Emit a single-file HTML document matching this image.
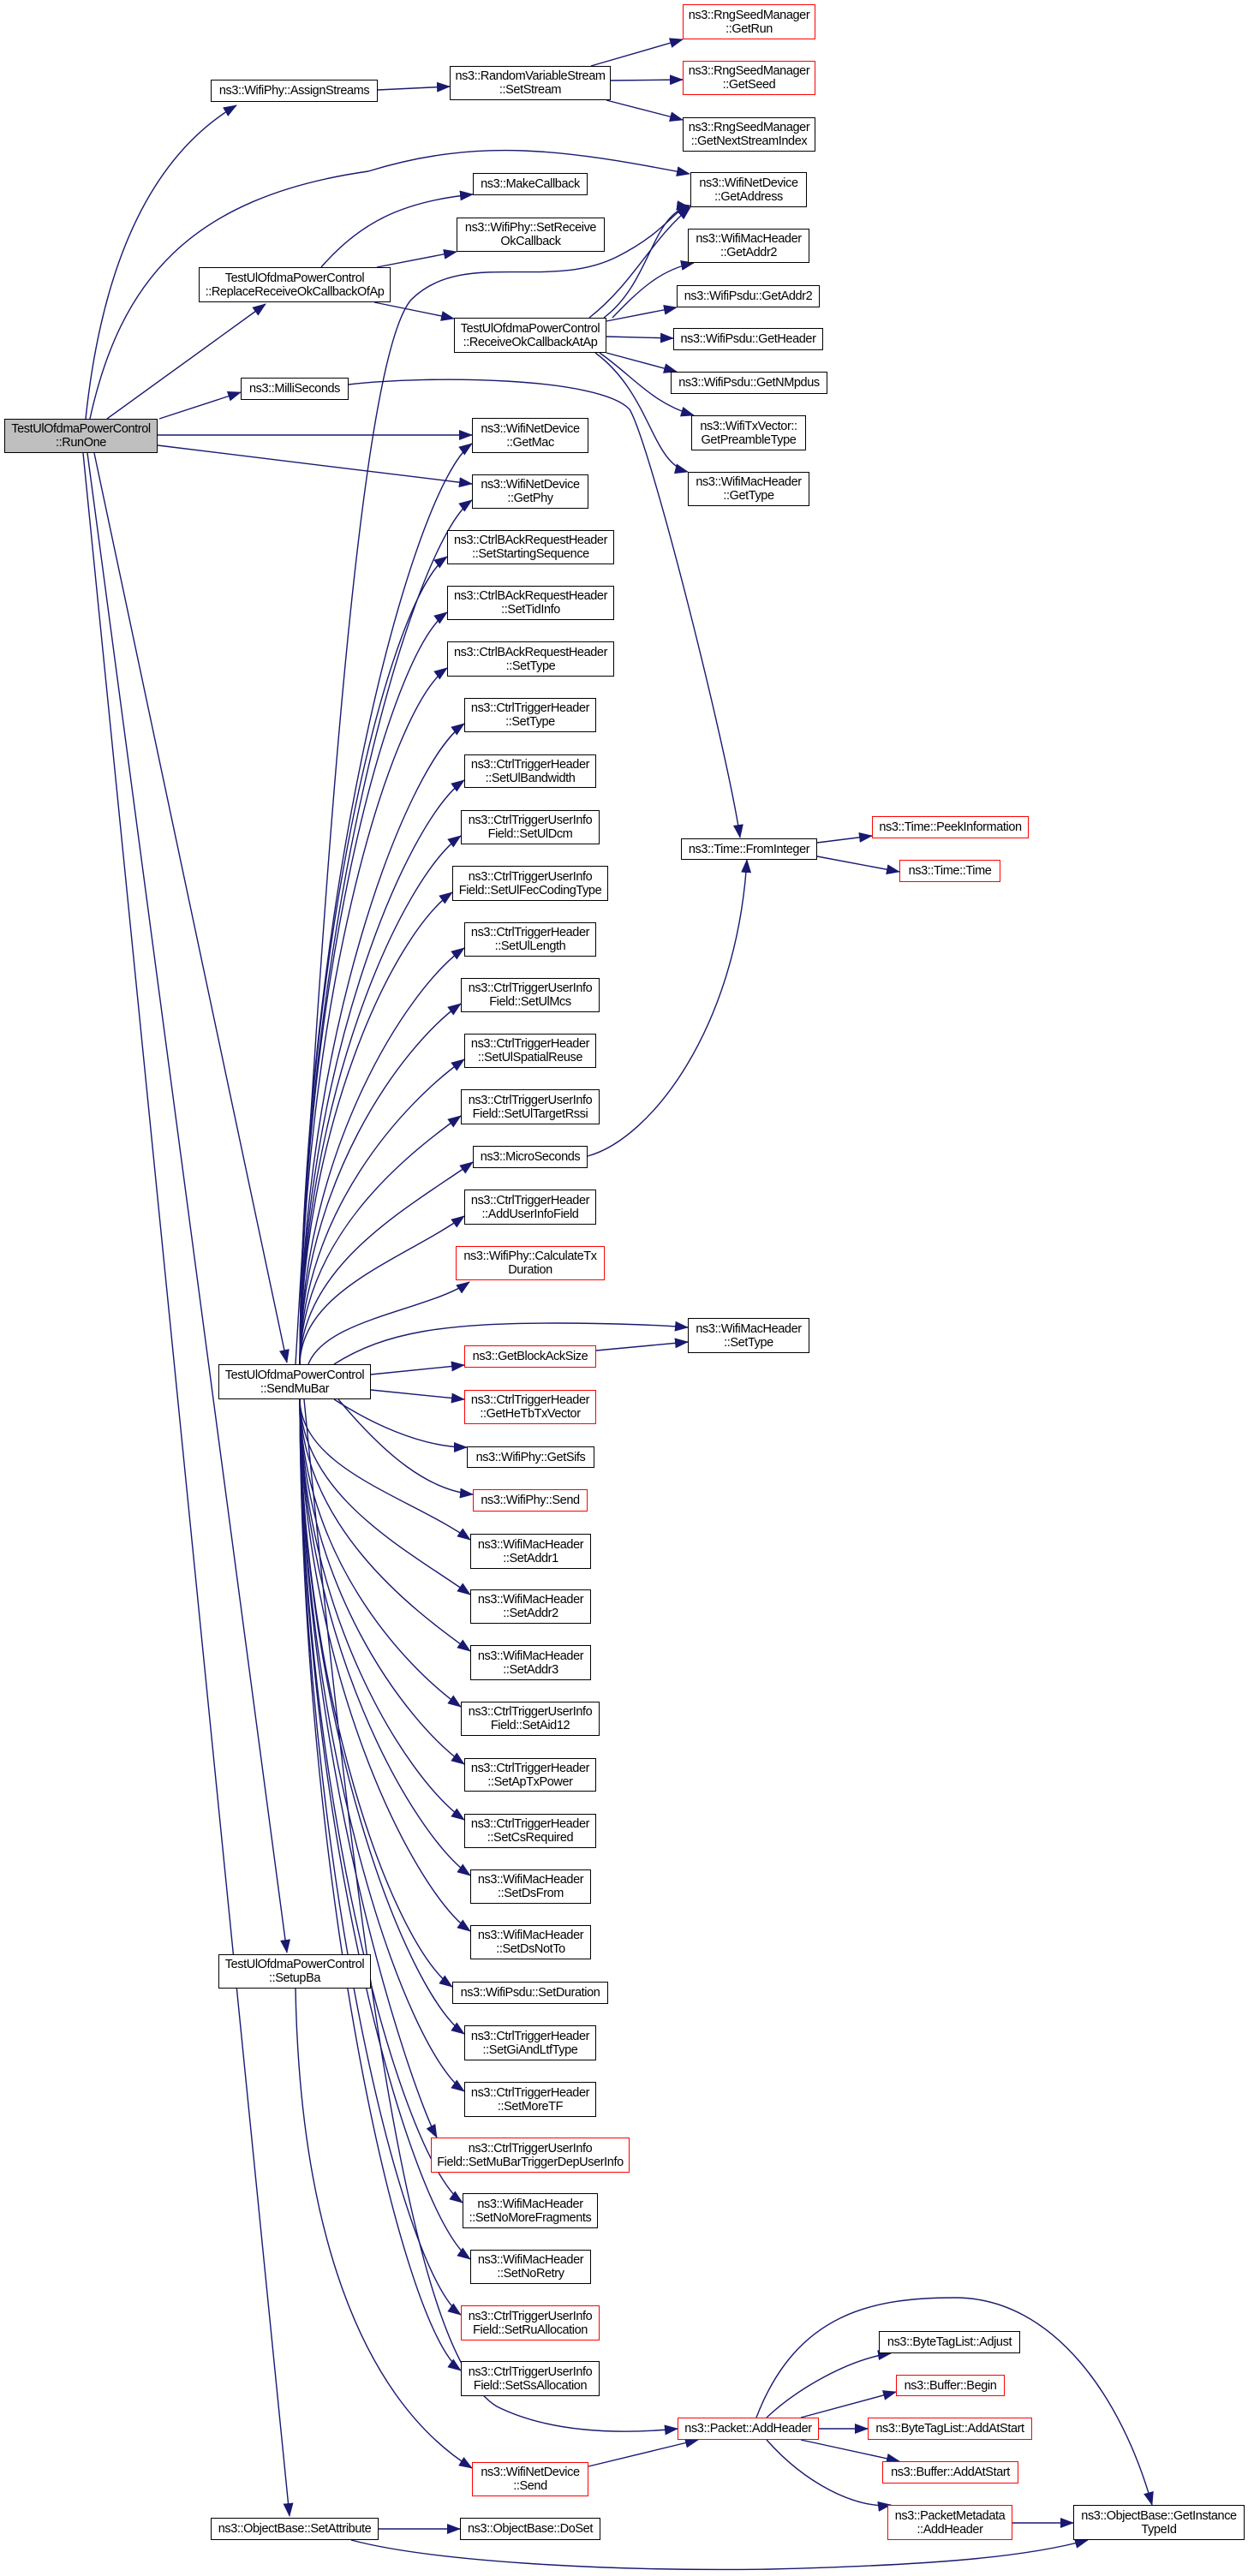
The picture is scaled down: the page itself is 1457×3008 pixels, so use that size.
<!DOCTYPE html>
<html><head><meta charset="utf-8"><style>
html,body{margin:0;padding:0;background:#fff;}
body{width:1457px;height:3008px;position:relative;overflow:hidden;font-family:"Liberation Sans",Arial,sans-serif;}
.n{position:absolute;box-sizing:border-box;border:1.5px solid #000;background:#fff;display:flex;align-items:center;justify-content:center;text-align:center;font-size:14.5px;letter-spacing:-0.4px;line-height:16px;color:#000;white-space:nowrap;}
.r{border-color:#ff0000;}
.g{background:#bfbfbf;}
svg{position:absolute;left:0;top:0;}
</style></head><body>
<svg width="1457" height="3008" viewBox="0 0 1457 3008">
<defs><marker id="a" markerWidth="16" markerHeight="12" refX="15" refY="6" orient="auto" markerUnits="userSpaceOnUse"><path d="M0,0 L16,6 L0,12 z" fill="#191970"/></marker></defs>
<g fill="none" stroke="#191970" stroke-width="1.4" marker-end="url(#a)">
<path d="M100,489 C120,300 180,180 276,123"/>
<path d="M105,489 C140,330 220,230 430,200 C560,160 660,175 805,203"/>
<path d="M125,489 L310,355"/>
<path d="M186,489 L281,458"/>
<path d="M184,508 L551,508"/>
<path d="M184,520 L551,565"/>
<path d="M110,529 L335,1591"/>
<path d="M102,529 L335,2280"/>
<path d="M97,529 L338,2938"/>
<path d="M441,105 L525,101"/>
<path d="M690,77 L797,46"/>
<path d="M713,94 L797,93"/>
<path d="M708,117 L797,140"/>
<path d="M375,312 C420,260 470,235 552,227"/>
<path d="M440,312 L533,294"/>
<path d="M437,353 L530,372"/>
<path d="M688,371 C740,330 760,280 806,242"/>
<path d="M705,371 C760,330 760,250 806,240"/>
<path d="M715,371 C745,340 770,315 810,307"/>
<path d="M708,375 L790,359"/>
<path d="M708,393 L786,395"/>
<path d="M708,412 L790,434"/>
<path d="M700,412 C740,440 760,470 810,485"/>
<path d="M695,412 C760,460 760,540 803,551"/>
<path d="M407,449 C500,438 700,440 735,478 C760,520 850,880 864,978"/>
<path d="M686,1350 C760,1330 860,1200 872,1004"/>
<path d="M954,984 L1018,976"/>
<path d="M954,1000 L1050,1018"/>
<path d="M345,1593 C380,1000 420,420 480,350 C540,290 640,340 720,300 C780,270 790,240 805,242"/>
<path d="M350,1593 C352,1056 481,568 551,518"/>
<path d="M350,1593 C352,1088 481,634 551,584"/>
<path d="M350,1593 C352,1122 452,700 522,650"/>
<path d="M350,1593 C352,1154 452,765 522,715"/>
<path d="M350,1593 C352,1186 452,830 522,780"/>
<path d="M350,1593 C352,1219 472,895 542,845"/>
<path d="M350,1593 C352,1252 472,961 542,911"/>
<path d="M350,1593 C352,1284 468,1026 538,976"/>
<path d="M350,1593 C352,1318 458,1092 528,1042"/>
<path d="M350,1593 C352,1350 472,1157 542,1107"/>
<path d="M350,1593 C352,1382 468,1222 538,1172"/>
<path d="M350,1593 C352,1415 472,1287 542,1237"/>
<path d="M350,1593 C352,1448 468,1353 538,1303"/>
<path d="M350,1593 C352,1475 482,1407 552,1357"/>
<path d="M350,1593 C352,1506 472,1470 542,1420"/>
<path d="M360,1593 C380,1540 500,1530 548,1497"/>
<path d="M390,1593 C450,1555 520,1545 650,1545 C720,1545 780,1548 803,1550"/>
<path d="M433,1605 L542,1594"/>
<path d="M696,1577 L803,1567"/>
<path d="M433,1623 L542,1634"/>
<path d="M390,1634 C430,1660 490,1690 545,1690"/>
<path d="M395,1634 C450,1700 500,1740 552,1745"/>
<path d="M350,1634 C352,1716 479,1748 549,1798"/>
<path d="M350,1634 C352,1748 479,1812 549,1862"/>
<path d="M350,1634 C352,1781 479,1878 549,1928"/>
<path d="M350,1634 C352,1814 468,1943 538,1993"/>
<path d="M350,1634 C352,1847 472,2010 542,2060"/>
<path d="M350,1634 C352,1880 472,2075 542,2125"/>
<path d="M350,1634 C352,1912 479,2140 549,2190"/>
<path d="M350,1634 C352,1944 479,2205 549,2255"/>
<path d="M350,1634 C352,1977 458,2270 528,2320"/>
<path d="M350,1634 C352,2004 472,2325 542,2375"/>
<path d="M350,1634 C352,2038 472,2392 542,2442"/>
<path d="M350,1634 C352,2065 480,2440 510,2496"/>
<path d="M350,1634 C352,2103 470,2522 540,2572"/>
<path d="M350,1634 C352,2136 479,2588 549,2638"/>
<path d="M350,1634 C352,2168 468,2653 538,2703"/>
<path d="M350,1634 C352,2201 468,2718 538,2768"/>
<path d="M355,1634 C420,2300 480,2750 580,2810 C640,2840 720,2843 791,2836"/>
<path d="M345,2322 C350,2600 420,2800 551,2882"/>
<path d="M687,2880 L815,2849"/>
<path d="M442,2953 L537,2953"/>
<path d="M410,2966 C500,2990 700,3003 900,3000 C1100,2995 1200,2985 1270,2966"/>
<path d="M895,2823 C930,2790 990,2755 1040,2748"/>
<path d="M935,2823 L1046,2793"/>
<path d="M956,2836 L1013,2836"/>
<path d="M935,2849 L1050,2874"/>
<path d="M895,2849 C940,2900 1000,2930 1040,2925"/>
<path d="M883,2823 C930,2700 1020,2683 1115,2683 C1230,2683 1310,2800 1345,2925"/>
<path d="M1182,2946 L1253,2946"/>
</g>
</svg>

<div class="n g" style="left:5px;top:489px;width:179px;height:40px">TestUlOfdmaPowerControl<br>::RunOne</div>
<div class="n" style="left:246px;top:93px;width:195px;height:26px">ns3::WifiPhy::AssignStreams</div>
<div class="n" style="left:525px;top:77px;width:188px;height:40px">ns3::RandomVariableStream<br>::SetStream</div>
<div class="n r" style="left:797px;top:5px;width:155px;height:41px">ns3::RngSeedManager<br>::GetRun</div>
<div class="n r" style="left:797px;top:71px;width:155px;height:40px">ns3::RngSeedManager<br>::GetSeed</div>
<div class="n" style="left:797px;top:137px;width:155px;height:40px">ns3::RngSeedManager<br>::GetNextStreamIndex</div>
<div class="n" style="left:806px;top:201px;width:136px;height:41px">ns3::WifiNetDevice<br>::GetAddress</div>
<div class="n" style="left:552px;top:202px;width:134px;height:26px">ns3::MakeCallback</div>
<div class="n" style="left:533px;top:254px;width:173px;height:40px">ns3::WifiPhy::SetReceive<br>OkCallback</div>
<div class="n" style="left:232px;top:312px;width:224px;height:41px">TestUlOfdmaPowerControl<br>::ReplaceReceiveOkCallbackOfAp</div>
<div class="n" style="left:803px;top:267px;width:142px;height:40px">ns3::WifiMacHeader<br>::GetAddr2</div>
<div class="n" style="left:790px;top:333px;width:167px;height:26px">ns3::WifiPsdu::GetAddr2</div>
<div class="n" style="left:530px;top:371px;width:178px;height:41px">TestUlOfdmaPowerControl<br>::ReceiveOkCallbackAtAp</div>
<div class="n" style="left:786px;top:383px;width:175px;height:26px">ns3::WifiPsdu::GetHeader</div>
<div class="n" style="left:783px;top:434px;width:183px;height:26px">ns3::WifiPsdu::GetNMpdus</div>
<div class="n" style="left:807px;top:485px;width:134px;height:41px">ns3::WifiTxVector::<br>GetPreambleType</div>
<div class="n" style="left:803px;top:551px;width:142px;height:40px">ns3::WifiMacHeader<br>::GetType</div>
<div class="n" style="left:281px;top:441px;width:126px;height:26px">ns3::MilliSeconds</div>
<div class="n" style="left:551px;top:488px;width:136px;height:41px">ns3::WifiNetDevice<br>::GetMac</div>
<div class="n" style="left:551px;top:554px;width:136px;height:40px">ns3::WifiNetDevice<br>::GetPhy</div>
<div class="n" style="left:522px;top:619px;width:195px;height:40px">ns3::CtrlBAckRequestHeader<br>::SetStartingSequence</div>
<div class="n" style="left:522px;top:684px;width:195px;height:40px">ns3::CtrlBAckRequestHeader<br>::SetTidInfo</div>
<div class="n" style="left:522px;top:749px;width:195px;height:41px">ns3::CtrlBAckRequestHeader<br>::SetType</div>
<div class="n" style="left:542px;top:815px;width:154px;height:40px">ns3::CtrlTriggerHeader<br>::SetType</div>
<div class="n" style="left:542px;top:881px;width:154px;height:39px">ns3::CtrlTriggerHeader<br>::SetUlBandwidth</div>
<div class="n" style="left:538px;top:946px;width:162px;height:40px">ns3::CtrlTriggerUserInfo<br>Field::SetUlDcm</div>
<div class="n" style="left:528px;top:1011px;width:182px;height:41px">ns3::CtrlTriggerUserInfo<br>Field::SetUlFecCodingType</div>
<div class="n" style="left:542px;top:1077px;width:154px;height:40px">ns3::CtrlTriggerHeader<br>::SetUlLength</div>
<div class="n" style="left:538px;top:1142px;width:162px;height:40px">ns3::CtrlTriggerUserInfo<br>Field::SetUlMcs</div>
<div class="n" style="left:542px;top:1207px;width:154px;height:40px">ns3::CtrlTriggerHeader<br>::SetUlSpatialReuse</div>
<div class="n" style="left:538px;top:1272px;width:162px;height:41px">ns3::CtrlTriggerUserInfo<br>Field::SetUlTargetRssi</div>
<div class="n" style="left:552px;top:1338px;width:134px;height:26px">ns3::MicroSeconds</div>
<div class="n" style="left:542px;top:1389px;width:154px;height:41px">ns3::CtrlTriggerHeader<br>::AddUserInfoField</div>
<div class="n r" style="left:532px;top:1455px;width:174px;height:40px">ns3::WifiPhy::CalculateTx<br>Duration</div>
<div class="n" style="left:795px;top:979px;width:159px;height:25px">ns3::Time::FromInteger</div>
<div class="n r" style="left:1018px;top:953px;width:183px;height:26px">ns3::Time::PeekInformation</div>
<div class="n r" style="left:1050px;top:1004px;width:118px;height:26px">ns3::Time::Time</div>
<div class="n" style="left:803px;top:1539px;width:142px;height:41px">ns3::WifiMacHeader<br>::SetType</div>
<div class="n r" style="left:542px;top:1571px;width:154px;height:26px">ns3::GetBlockAckSize</div>
<div class="n" style="left:255px;top:1593px;width:178px;height:41px">TestUlOfdmaPowerControl<br>::SendMuBar</div>
<div class="n r" style="left:542px;top:1623px;width:154px;height:40px">ns3::CtrlTriggerHeader<br>::GetHeTbTxVector</div>
<div class="n" style="left:545px;top:1689px;width:149px;height:25px">ns3::WifiPhy::GetSifs</div>
<div class="n r" style="left:552px;top:1739px;width:134px;height:26px">ns3::WifiPhy::Send</div>
<div class="n" style="left:549px;top:1791px;width:141px;height:41px">ns3::WifiMacHeader<br>::SetAddr1</div>
<div class="n" style="left:549px;top:1856px;width:141px;height:40px">ns3::WifiMacHeader<br>::SetAddr2</div>
<div class="n" style="left:549px;top:1921px;width:141px;height:41px">ns3::WifiMacHeader<br>::SetAddr3</div>
<div class="n" style="left:538px;top:1987px;width:162px;height:40px">ns3::CtrlTriggerUserInfo<br>Field::SetAid12</div>
<div class="n" style="left:542px;top:2053px;width:154px;height:39px">ns3::CtrlTriggerHeader<br>::SetApTxPower</div>
<div class="n" style="left:542px;top:2118px;width:154px;height:40px">ns3::CtrlTriggerHeader<br>::SetCsRequired</div>
<div class="n" style="left:549px;top:2183px;width:141px;height:40px">ns3::WifiMacHeader<br>::SetDsFrom</div>
<div class="n" style="left:549px;top:2248px;width:141px;height:40px">ns3::WifiMacHeader<br>::SetDsNotTo</div>
<div class="n" style="left:255px;top:2282px;width:178px;height:40px">TestUlOfdmaPowerControl<br>::SetupBa</div>
<div class="n" style="left:528px;top:2314px;width:182px;height:26px">ns3::WifiPsdu::SetDuration</div>
<div class="n" style="left:542px;top:2365px;width:154px;height:41px">ns3::CtrlTriggerHeader<br>::SetGiAndLtfType</div>
<div class="n" style="left:542px;top:2431px;width:154px;height:41px">ns3::CtrlTriggerHeader<br>::SetMoreTF</div>
<div class="n r" style="left:503px;top:2496px;width:232px;height:41px">ns3::CtrlTriggerUserInfo<br>Field::SetMuBarTriggerDepUserInfo</div>
<div class="n" style="left:540px;top:2561px;width:158px;height:41px">ns3::WifiMacHeader<br>::SetNoMoreFragments</div>
<div class="n" style="left:549px;top:2627px;width:141px;height:40px">ns3::WifiMacHeader<br>::SetNoRetry</div>
<div class="n r" style="left:538px;top:2692px;width:162px;height:41px">ns3::CtrlTriggerUserInfo<br>Field::SetRuAllocation</div>
<div class="n" style="left:538px;top:2757px;width:162px;height:41px">ns3::CtrlTriggerUserInfo<br>Field::SetSsAllocation</div>
<div class="n r" style="left:791px;top:2823px;width:165px;height:26px">ns3::Packet::AddHeader</div>
<div class="n r" style="left:551px;top:2875px;width:136px;height:40px">ns3::WifiNetDevice<br>::Send</div>
<div class="n" style="left:246px;top:2940px;width:196px;height:26px">ns3::ObjectBase::SetAttribute</div>
<div class="n" style="left:537px;top:2940px;width:164px;height:26px">ns3::ObjectBase::DoSet</div>
<div class="n" style="left:1026px;top:2722px;width:165px;height:26px">ns3::ByteTagList::Adjust</div>
<div class="n r" style="left:1046px;top:2773px;width:127px;height:25px">ns3::Buffer::Begin</div>
<div class="n r" style="left:1013px;top:2823px;width:192px;height:26px">ns3::ByteTagList::AddAtStart</div>
<div class="n r" style="left:1030px;top:2874px;width:159px;height:26px">ns3::Buffer::AddAtStart</div>
<div class="n r" style="left:1036px;top:2925px;width:146px;height:41px">ns3::PacketMetadata<br>::AddHeader</div>
<div class="n" style="left:1253px;top:2925px;width:200px;height:41px">ns3::ObjectBase::GetInstance<br>TypeId</div>
</body></html>
